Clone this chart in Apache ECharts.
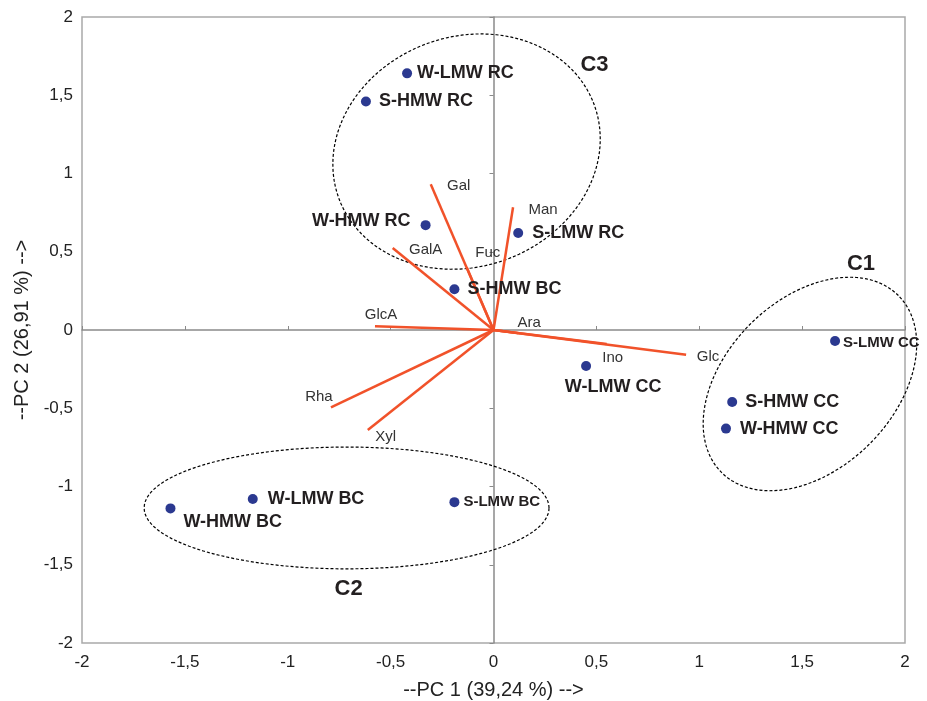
<!DOCTYPE html>
<html lang="en">
<head>
<meta charset="UTF-8">
<title>PCA biplot</title>
<style>
html, body { margin: 0; padding: 0; background: #fff; }
#main { width: 927px; height: 701px; }
</style>
</head>
<body>
<div id="main"></div>
<script src="https://cdn.jsdelivr.net/npm/echarts@6/dist/echarts.min.js"></script>
<script>
// observations
var sampleNames = ['W-LMW RC', 'S-HMW RC', 'W-HMW RC', 'S-LMW RC', 'S-HMW BC', 'W-LMW CC',
                   'S-LMW CC', 'S-HMW CC', 'W-HMW CC', 'W-HMW BC', 'W-LMW BC', 'S-LMW BC'];
var samplePC1 = [-0.42, -0.62, -0.33, 0.12, -0.19, 0.45, 1.66, 1.16, 1.13, -1.57, -1.17, -0.19];
var samplePC2 = [1.64, 1.46, 0.67, 0.62, 0.26, -0.23, -0.07, -0.46, -0.63, -1.14, -1.08, -1.10];

// variables (loadings)
var varNames = ['Gal', 'Man', 'GalA', 'Fuc', 'GlcA', 'Ara', 'Ino', 'Glc', 'Rha', 'Xyl'];
var varPC1 = [-0.305, 0.095, -0.49, -0.13, -0.576, 0.12, 0.55, 0.936, -0.79, -0.611];
var varPC2 = [0.931, 0.784, 0.524, 0.40, 0.024, -0.02, -0.09, -0.158, -0.494, -0.639];

// groups drawn as ellipses (semi axes in PC1 units, angle in degrees)
var clusterNames = ['C1', 'C2', 'C3'];
var clusterX = [1.538, -0.714, -0.131];
var clusterY = [-0.345, -1.137, 1.14];
var clusterA = [0.608, 0.984, 0.661];
var clusterB = [0.411, 0.296, 0.559];
var clusterAngle = [45, 0, 20];

var tickStep = 0.5;
var axisMin = -2, axisMax = 2;

// label layout (pixels)
var sampleLabelLayout = [
    {position: 'right', distance: 5},
    {position: 'right', distance: 8},
    {position: 'left', distance: 10, offset: [0, -4]},
    {position: 'right', distance: 9},
    {position: 'right', distance: 8},
    {position: 'bottom', distance: 7, offset: [27, 0]},
    {position: 'right', distance: 3, offset: [0, 2], fontSize: 15},
    {position: 'right', distance: 8},
    {position: 'right', distance: 9},
    {position: 'right', distance: 8, offset: [0, 14]},
    {position: 'right', distance: 10},
    {position: 'right', distance: 4, fontSize: 15}
];
var varLabelOffset = [[28, 2], [30, 3], [33, 2], [21, -15], [6, -11], [11, -10], [6, 14], [22, 2], [-12, -10], [18, 7]];
var clusterLabelOffset = [[51, -120], [2, 81], [128, -87]];

var FONT = "'Liberation Sans', Arial, Helvetica, sans-serif";
var fmt = function (v) { return String(v).replace('.', ','); };

var chart = echarts.init(document.getElementById('main'));

var sampleData = sampleNames.map(function (n, i) {
    var l = sampleLabelLayout[i];
    return {
        name: n,
        value: [samplePC1[i], samplePC2[i]],
        label: {
            position: l.position,
            distance: l.distance,
            offset: l.offset || [0, 0],
            fontSize: l.fontSize || 18
        }
    };
});

var varData = varNames.map(function (n, i) { return [varPC1[i], varPC2[i], i]; });
var clusterData = clusterNames.map(function (n, i) { return [clusterX[i], clusterY[i], i]; });

var option = {
    animation: false,
    backgroundColor: '#fff',
    textStyle: {fontFamily: FONT},
    grid: {
        show: true, left: 82, right: 22, top: 17, bottom: 58,
        borderColor: '#a9a9a9', borderWidth: 1.5, outerBoundsMode: 'none'
    },
    xAxis: [{
        type: 'value', min: axisMin, max: axisMax, interval: tickStep, position: 'bottom',
        axisLine: {show: false, onZero: false}, axisTick: {show: false}, splitLine: {show: false},
        axisLabel: {formatter: fmt, fontSize: 17, color: '#222', margin: 11},
        name: '--PC 1 (39,24 %) -->', nameLocation: 'middle', nameGap: 37,
        nameTextStyle: {fontSize: 20, color: '#222'}
    }, {
        type: 'value', min: axisMin, max: axisMax, interval: tickStep, position: 'bottom',
        axisLine: {show: true, onZero: true, onZeroAxisIndex: 0, lineStyle: {color: '#8a8a8a', width: 1.5}},
        axisTick: {show: true, inside: true, length: 4, lineStyle: {color: '#8a8a8a'}},
        axisLabel: {show: false}, splitLine: {show: false}
    }],
    yAxis: [{
        type: 'value', min: axisMin, max: axisMax, interval: tickStep, position: 'left',
        axisLine: {show: false, onZero: false}, axisTick: {show: false}, splitLine: {show: false},
        axisLabel: {formatter: fmt, fontSize: 17, color: '#222', margin: 9},
        name: '--PC 2 (26,91 %) -->', nameLocation: 'middle', nameGap: 50,
        nameTextStyle: {fontSize: 20, color: '#222'}
    }, {
        type: 'value', min: axisMin, max: axisMax, interval: tickStep, position: 'left',
        axisLine: {show: true, onZero: true, onZeroAxisIndex: 0, lineStyle: {color: '#8a8a8a', width: 1.5}},
        axisTick: {show: true, inside: false, length: 4, lineStyle: {color: '#8a8a8a'}},
        axisLabel: {show: false}, splitLine: {show: false}
    }],
    series: [{
        // ellipses around groups
        type: 'custom', z: 1, xAxisIndex: 0, yAxisIndex: 0,
        encode: {x: 0, y: 1},
        data: clusterData,
        renderItem: function (params, api) {
            var i = api.value(2);
            var c = api.coord([api.value(0), api.value(1)]);
            var k = api.size([1, 1])[0];
            var a = clusterA[i] * k, b = clusterB[i] * k;
            var th = clusterAngle[i] * Math.PI / 180;
            var pts = [];
            for (var s = 0; s < 120; s++) {
                var t = s / 120 * Math.PI * 2;
                var ex = a * Math.cos(t), ey = b * Math.sin(t);
                pts.push([c[0] + ex * Math.cos(th) - ey * Math.sin(th),
                          c[1] - (ex * Math.sin(th) + ey * Math.cos(th))]);
            }
            var off = clusterLabelOffset[i];
            return {
                type: 'group',
                children: [{
                    type: 'polygon', shape: {points: pts},
                    style: {fill: 'none', stroke: '#000', lineWidth: 1.2, lineDash: [3, 2]}
                }, {
                    type: 'text', x: c[0] + off[0], y: c[1] + off[1],
                    style: {text: clusterNames[i], fontSize: 22, fontWeight: 'bold', fontFamily: FONT,
                            fill: '#231f20', align: 'center', verticalAlign: 'middle'}
                }]
            };
        }
    }, {
        // loading vectors
        type: 'custom', z: 2, xAxisIndex: 0, yAxisIndex: 0,
        encode: {x: 0, y: 1},
        data: varData,
        renderItem: function (params, api) {
            var i = api.value(2);
            var o = api.coord([0, 0]);
            var e = api.coord([api.value(0), api.value(1)]);
            var off = varLabelOffset[i];
            return {
                type: 'group',
                children: [{
                    type: 'line', shape: {x1: o[0], y1: o[1], x2: e[0], y2: e[1]},
                    style: {stroke: '#f1522a', lineWidth: 2.5}
                }, {
                    type: 'text', x: e[0] + off[0], y: e[1] + off[1],
                    style: {text: varNames[i], fontSize: 15, fontFamily: FONT, fill: '#333',
                            align: 'center', verticalAlign: 'middle'}
                }]
            };
        }
    }, {
        type: 'scatter', z: 3, xAxisIndex: 0, yAxisIndex: 0,
        symbolSize: 10,
        itemStyle: {color: '#2b3990', opacity: 1},
        label: {show: true, formatter: '{b}', fontWeight: 'bold', color: '#231f20', fontFamily: FONT},
        data: sampleData
    }]
};
chart.setOption(option);
</script>
</body>
</html>
